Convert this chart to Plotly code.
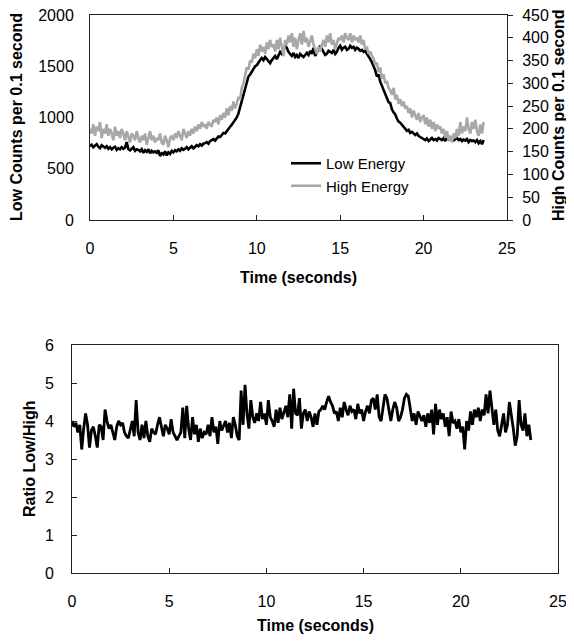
import plotly.graph_objects as go

# ---------------- data ----------------
time_s = [round(i * 0.1, 1) for i in range(237)]  # 0.0 .. 23.6 s sampling grid

low_counts = [
    720, 735, 710, 725, 740, 715, 700, 730, 715, 705,
    720, 695, 710, 690, 705, 715, 685, 700, 690, 710,
    695, 705, 760, 690, 680, 700, 710, 675, 690, 685,
    670, 690, 655, 680, 665, 690, 650, 675, 660, 670,
    655, 680, 625, 650, 640, 670, 630, 660, 645, 675,
    660, 680, 670, 690, 675, 700, 685, 695, 710, 690,
    705, 720, 700, 715, 730, 720, 740, 725, 745, 750,
    760, 745, 770, 780, 790, 775, 800, 815, 810, 830,
    850, 845, 870, 890, 910, 930, 955, 980, 1000, 1040,
    1100, 1160, 1230, 1290, 1360, 1400, 1420, 1450, 1470, 1500,
    1510, 1540, 1560, 1580, 1560, 1590, 1570, 1550, 1530, 1560,
    1580, 1600, 1570, 1610, 1640, 1620, 1660, 1700, 1680, 1640,
    1620, 1600, 1630, 1590, 1610, 1580, 1620, 1600, 1590, 1610,
    1630, 1610, 1650, 1620, 1680, 1600, 1640, 1660, 1700, 1670,
    1640, 1610, 1620, 1650, 1640, 1630, 1660, 1620, 1640, 1680,
    1700, 1660, 1680, 1690, 1660, 1670, 1700, 1680, 1690, 1660,
    1680, 1670, 1650, 1660, 1640, 1650, 1620, 1600, 1570, 1540,
    1500, 1460, 1400, 1420, 1350, 1310, 1280, 1230, 1200, 1150,
    1140, 1080, 1050, 1030, 990, 960, 950, 930, 900, 880,
    870, 880, 850, 860, 840, 830, 845, 820, 810, 800,
    790, 780, 795, 770, 785, 800, 780, 790, 775, 800,
    790, 780, 800, 770, 810, 785, 795, 780, 775, 790,
    800, 780, 790, 770, 785, 775, 790, 760, 780, 770,
    775, 760, 780, 750, 770, 740, 780,
]

high_counts = [
    200, 190, 210, 185, 205, 195, 215, 180, 200, 190,
    210, 185, 200, 190, 175, 205, 185, 195, 180, 200,
    190, 175, 195, 180, 170, 190, 185, 175, 195, 180,
    170, 185, 175, 190, 165, 180, 195, 175, 185, 170,
    180, 175, 190, 170, 165, 185, 175, 160, 180, 185,
    175, 190, 180, 195, 185, 175, 200, 190, 180, 195,
    185, 200, 190, 205, 195, 210, 200, 215, 205, 210,
    200, 215, 210, 205, 220, 215, 225, 210, 230, 220,
    235, 225, 245, 230, 250, 240, 260, 245, 255, 270,
    265, 290, 300, 320, 335, 330, 350, 345, 365, 355,
    375, 360, 385, 370, 380, 365, 390, 375, 395, 380,
    385, 370, 395, 375, 400, 380, 360, 395, 385, 405,
    390, 410, 380, 400, 375, 395, 410, 385, 415, 390,
    400, 380, 395, 405, 385, 375, 365, 380, 370, 385,
    395, 380, 405, 390, 410, 385, 395, 375, 390, 400,
    395, 405, 390, 410, 400, 395, 410, 390, 405, 395,
    400, 390, 405, 385, 395, 375, 380, 365, 370, 360,
    355, 340, 345, 325, 335, 310, 320, 300, 305, 290,
    285, 275, 290, 265, 275, 255, 265, 250, 260, 245,
    250, 235, 245, 225, 240, 230, 220, 235, 215, 225,
    230, 210, 225, 205, 220, 200, 215, 195, 210, 200,
    205, 190, 200, 180, 195, 175, 185, 170, 190, 180,
    200, 185, 215, 190, 205, 195, 225, 200, 190, 215,
    200, 220, 195, 185, 210, 190, 215,
]

ratio_low_high = [
    4.0, 3.85, 3.95, 3.7, 3.9, 3.25, 3.8, 4.2, 3.9, 3.3,
    3.75, 3.85, 3.6, 3.3, 3.9, 3.85, 3.5, 4.3, 4.0, 3.8,
    3.9, 3.7, 3.5, 3.85, 4.0, 3.9, 3.95, 3.7, 3.6, 3.55,
    3.8, 4.0, 3.6, 4.55, 3.7, 3.5, 3.9, 3.55, 4.0, 3.6,
    3.45, 3.8, 3.7, 3.65, 3.9, 4.1, 3.85, 3.6, 3.9, 3.8,
    3.65, 4.05, 3.7, 3.6, 3.5, 3.6, 3.7, 4.35, 3.55, 4.4,
    3.8, 3.5, 4.1, 3.65, 3.9, 3.45, 3.8, 3.55, 3.7, 3.65,
    3.9, 3.6, 4.1, 3.7, 3.85, 3.4, 4.0, 3.75, 3.9, 4.0,
    3.7, 3.95, 3.55, 4.1, 3.9, 3.6, 3.5, 4.8, 3.9, 4.95,
    4.2, 3.8, 4.55, 4.1, 3.95, 4.2, 4.0, 4.5, 4.05, 4.2,
    3.9, 4.55, 4.1, 4.0, 3.85, 4.3, 3.95, 4.35, 4.05, 4.2,
    4.4, 4.1, 4.7, 3.8, 4.85, 4.2, 4.15, 4.6, 3.8, 4.2,
    4.3, 4.0, 4.25, 4.1, 3.85, 4.2, 3.9, 4.25, 4.3, 4.4,
    4.3, 4.5, 4.65, 4.5, 4.4, 4.2, 4.25, 4.0, 4.35, 4.1,
    4.5, 4.3, 4.15, 4.4, 4.25, 4.3, 4.05, 4.45, 4.2, 4.3,
    4.0, 4.25, 4.4, 4.2, 4.55, 4.6, 4.3, 4.7, 4.1, 4.0,
    4.3, 4.7, 4.6, 4.25, 4.0, 4.3, 4.5, 4.35, 4.0, 4.1,
    4.3, 4.6, 4.7, 4.65, 4.3, 4.0, 4.2, 3.9, 4.25, 4.1,
    4.0, 4.15, 3.85, 4.2, 3.95, 4.3, 3.65, 4.45, 3.9, 4.3,
    4.05, 4.2, 3.85, 4.1, 3.6, 4.25, 3.95, 4.0, 3.8, 4.05,
    3.7, 3.85, 3.25, 4.0, 3.75, 4.25, 3.9, 4.3, 4.1, 4.35,
    4.0, 4.3, 4.15, 4.7, 4.2, 4.8, 4.4, 3.9, 4.3, 3.75,
    3.6, 3.95, 4.2, 3.7, 3.9, 4.5, 4.2, 3.8, 3.35, 3.6,
    4.55, 3.9, 3.75, 4.2, 3.6, 3.9, 3.5,
]

x_ticks = [0, 5, 10, 15, 20, 25]
low_ticks = [0, 500, 1000, 1500, 2000]
high_ticks = [0, 50, 100, 150, 200, 250, 300, 350, 400, 450]
ratio_ticks = [0, 1, 2, 3, 4, 5, 6]

# ---------------- layout helpers (page pixel -> paper) ----------------
# the page body has an 8px margin, so the figure starts at (8, 8);
# keep the figure small enough that the page never scrolls
OFF = 8
W, H = 574 - 2 * OFF, 642 - 2 * OFF
def px(x):
    return (x - OFF) / W
def py(y):
    return 1 - (y - OFF) / H

FONT = "Liberation Sans, Arial, sans-serif"
AX = "#222222"

fig = go.Figure()
fig.add_trace(go.Scatter(x=time_s, y=low_counts, mode="lines", name="Low Energy",
                         line=dict(color="#000000", width=2.6), xaxis="x", yaxis="y"))
fig.add_trace(go.Scatter(x=time_s, y=high_counts, mode="lines", name="High Energy",
                         line=dict(color="#a8a8a8", width=2.6), xaxis="x", yaxis="y2"))
fig.add_trace(go.Scatter(x=time_s, y=ratio_low_high, mode="lines", name="Ratio",
                         line=dict(color="#000000", width=2.8), xaxis="x2", yaxis="y3",
                         showlegend=False))

tickfont = dict(family=FONT, size=16, color="#000000")
common = dict(showgrid=False, zeroline=False, showline=True, linecolor=AX,
              linewidth=1, automargin=False, tickfont=tickfont, tickcolor=AX,
              ticklabeloverflow="allow")

fig.update_layout(
    width=W, height=H,
    margin=dict(l=0, r=0, t=0, b=0, autoexpand=False),
    paper_bgcolor="white", plot_bgcolor="white",
    font=dict(family=FONT, color="#000000"),
    xaxis=dict(domain=[px(90), px(507)], range=[0, 25], tickvals=x_ticks,
               mirror=True, ticks="inside", ticklen=5,
               ticklabelstandoff=14, anchor="y", **common),
    yaxis=dict(domain=[py(220), py(15)], range=[0, 2000], tickvals=low_ticks,
               ticks="", ticklabelstandoff=12, anchor="x", **common),
    yaxis2=dict(range=[0, 450], tickvals=high_ticks, overlaying="y", side="right",
                ticks="outside", ticklen=5, ticklabelstandoff=6, anchor="x", **common),
    xaxis2=dict(domain=[px(72), px(558)], range=[0, 25], tickvals=x_ticks,
                mirror=True, ticks="inside", ticklen=5,
                ticklabelstandoff=14, anchor="y3", **common),
    yaxis3=dict(domain=[py(573), py(345)], range=[0, 6], tickvals=ratio_ticks,
                mirror=True, ticks="inside", ticklen=5,
                ticklabelstandoff=14, anchor="x2", **common),
    showlegend=True,
    legend=dict(x=px(286), y=py(147), xanchor="left", yanchor="top",
                bgcolor="rgba(0,0,0,0)", borderwidth=0,
                font=dict(family=FONT, size=15, color="#000000"),
                tracegroupgap=0, itemwidth=30),
)

title_font = dict(family=FONT, size=16, color="#000000")
annos = [
    dict(text="<b>Low Counts per 0.1 second</b>", x=px(17), y=py(117), textangle=-90),
    dict(text="<b>High Counts per 0.1 second</b>", x=px(558), y=py(115), textangle=-90),
    dict(text="<b>Time (seconds)</b>", x=px(298), y=py(277), textangle=0),
    dict(text="<b>Ratio Low/High</b>", x=px(29), y=py(459), textangle=-90),
    dict(text="<b>Time (seconds)</b>", x=px(315), y=py(625), textangle=0),
]
for a in annos:
    fig.add_annotation(xref="paper", yref="paper", showarrow=False,
                       xanchor="center", yanchor="middle", font=title_font, **a)

fig.write_html("out.html")
